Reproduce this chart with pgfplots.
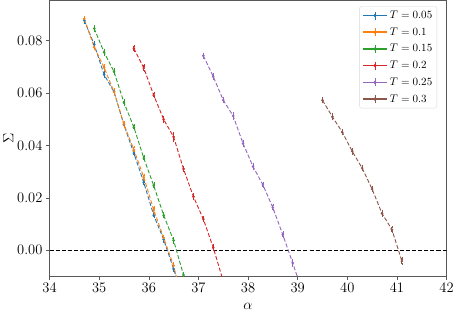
\documentclass[border=0pt]{standalone}
\usepackage{pgfplots}
\pgfplotsset{compat=1.18}
\definecolor{tabblue}{RGB}{31,119,180}
\definecolor{taborange}{RGB}{255,127,14}
\definecolor{tabgreen}{RGB}{44,160,44}
\definecolor{tabred}{RGB}{214,39,40}
\definecolor{tabpurple}{RGB}{148,103,189}
\definecolor{tabbrown}{RGB}{140,86,75}
\pgfplotsset{
  ebar/.style={only marks, mark=*, mark size=1.1pt, forget plot,
    error bars/y dir=both, error bars/y explicit, error bars/error mark=-,
    error bars/error bar style={line width=0.9pt},
    error bars/error mark options={mark size=1.6pt, line width=0.9pt}},
  dline/.style={dash pattern=on 4pt off 2pt, line width=0.9pt, forget plot, no marks},
  legimg/.style={legend image code/.code={
    \draw[solid, line width=1.5pt] (0cm,0cm) -- (0.85cm,0cm);
    \draw[solid, line width=1pt] (0.425cm,-0.14cm) -- (0.425cm,0.14cm);
    \fill (0.425cm,0cm) circle (1.4pt);
  }},
}
\begin{document}
\begin{tikzpicture}
\begin{axis}[
  scale only axis, width=394pt, height=274pt,
  xmin=34, xmax=42, ymin=-0.0100, ymax=0.0954,
  xtick={34,35,...,42},
  ytick={0,0.02,0.04,0.06,0.08},
  yticklabel style={/pgf/number format/.cd, fixed, fixed zerofill, precision=2},
  scaled y ticks=false,
  tick align=outside, xtick pos=bottom, ytick pos=left,
  major tick length=3.5pt,
  axis line style={black!65},
  every tick/.style={black!65},
  tick label style={font=\fontsize{14.5}{16}\selectfont},
  xlabel={$\alpha$}, ylabel={$\Sigma$},
  label style={font=\fontsize{15}{17}\selectfont},
  xlabel style={yshift=-4pt},
  ylabel style={yshift=-3pt},
  legend style={at={(0.976,0.978)}, anchor=north east, font=\fontsize{10.5}{12}\selectfont, draw=black!15, rounded corners=2pt, inner sep=2.5pt, row sep=3.6pt},
  legend cell align=left,
]
\addplot[black, dash pattern=on 4pt off 2pt, line width=0.8pt, forget plot] coordinates {(34,0) (42,0)};

% T = 0.05
\addplot[tabblue, dline] coordinates {(34.7,0.0877) (34.9,0.0785) (35.1,0.0670) (35.3,0.0604) (35.5,0.0478) (35.7,0.0370) (35.9,0.0258) (36.1,0.0133) (36.3,0.0041) (36.5,-0.0072) (36.56,-0.0105)};
\addplot[tabblue, ebar, mark options={tabblue}, error bars/error bar style={tabblue}, error bars/error mark options={tabblue}] coordinates {(34.7,0.0877) +- (0,0.0008) (34.9,0.0785) +- (0,0.0008) (35.1,0.0670) +- (0,0.0008) (35.3,0.0604) +- (0,0.0008) (35.5,0.0478) +- (0,0.0008) (35.7,0.0370) +- (0,0.0008) (35.9,0.0258) +- (0,0.0008) (36.1,0.0133) +- (0,0.0008) (36.3,0.0041) +- (0,0.0008) (36.5,-0.0072) +- (0,0.0008)};

% T = 0.1
\addplot[taborange, dline] coordinates {(34.7,0.0883) (34.9,0.0775) (35.1,0.0697) (35.3,0.0604) (35.5,0.0480) (35.7,0.0383) (35.9,0.0278) (36.1,0.0153) (36.3,0.0047) (36.5,-0.0059) (36.56,-0.0105)};
\addplot[taborange, ebar, mark options={taborange}, error bars/error bar style={taborange}, error bars/error mark options={taborange}] coordinates {(34.7,0.0883) +- (0,0.0008) (34.9,0.0775) +- (0,0.0008) (35.1,0.0697) +- (0,0.0010) (35.3,0.0604) +- (0,0.0010) (35.5,0.0480) +- (0,0.0008) (35.7,0.0383) +- (0,0.0010) (35.9,0.0278) +- (0,0.0010) (36.1,0.0153) +- (0,0.0010) (36.3,0.0047) +- (0,0.0008) (36.5,-0.0059) +- (0,0.0010)};

% T = 0.15
\addplot[tabgreen, dline] coordinates {(34.9,0.0846) (35.1,0.0755) (35.3,0.0681) (35.5,0.0563) (35.7,0.0469) (35.9,0.0351) (36.1,0.0246) (36.3,0.0133) (36.5,0.0037) (36.7,-0.0095) (36.71,-0.0105)};
\addplot[tabgreen, ebar, mark options={tabgreen}, error bars/error bar style={tabgreen}, error bars/error mark options={tabgreen}] coordinates {(34.9,0.0846) +- (0,0.0008) (35.1,0.0755) +- (0,0.0010) (35.3,0.0681) +- (0,0.0010) (35.5,0.0563) +- (0,0.0010) (35.7,0.0469) +- (0,0.0008) (35.9,0.0351) +- (0,0.0008) (36.1,0.0246) +- (0,0.0008) (36.3,0.0133) +- (0,0.0008) (36.5,0.0037) +- (0,0.0010) (36.7,-0.0095) +- (0,0.0008)};

% T = 0.2
\addplot[tabred, dline] coordinates {(35.7,0.0770) (35.9,0.0695) (36.1,0.0591) (36.3,0.0499) (36.5,0.0432) (36.7,0.0310) (36.9,0.0204) (37.1,0.0118) (37.3,0.0009) (37.48,-0.0105)};
\addplot[tabred, ebar, mark options={tabred}, error bars/error bar style={tabred}, error bars/error mark options={tabred}] coordinates {(35.7,0.0770) +- (0,0.0010) (35.9,0.0695) +- (0,0.0010) (36.1,0.0591) +- (0,0.0008) (36.3,0.0499) +- (0,0.0008) (36.5,0.0432) +- (0,0.0015) (36.7,0.0310) +- (0,0.0008) (36.9,0.0204) +- (0,0.0008) (37.1,0.0118) +- (0,0.0008) (37.3,0.0009) +- (0,0.0010)};

% T = 0.25
\addplot[tabpurple, dline] coordinates {(37.1,0.0742) (37.3,0.0662) (37.5,0.0573) (37.7,0.0512) (37.9,0.0407) (38.1,0.0319) (38.3,0.0249) (38.5,0.0162) (38.7,0.0059) (38.9,-0.0049) (39.0,-0.0105)};
\addplot[tabpurple, ebar, mark options={tabpurple}, error bars/error bar style={tabpurple}, error bars/error mark options={tabpurple}] coordinates {(37.1,0.0742) +- (0,0.0008) (37.3,0.0662) +- (0,0.0008) (37.5,0.0573) +- (0,0.0008) (37.7,0.0512) +- (0,0.0010) (37.9,0.0407) +- (0,0.0008) (38.1,0.0319) +- (0,0.0008) (38.3,0.0249) +- (0,0.0008) (38.5,0.0162) +- (0,0.0010) (38.7,0.0059) +- (0,0.0008) (38.9,-0.0049) +- (0,0.0010)};

% T = 0.3
\addplot[tabbrown, dline] coordinates {(39.5,0.0572) (39.7,0.0509) (39.9,0.0450) (40.1,0.0377) (40.3,0.0313) (40.5,0.0233) (40.7,0.0140) (40.9,0.0078) (41.1,-0.0042)};
\addplot[tabbrown, ebar, mark options={tabbrown}, error bars/error bar style={tabbrown}, error bars/error mark options={tabbrown}] coordinates {(39.5,0.0572) +- (0,0.0008) (39.7,0.0509) +- (0,0.0010) (39.9,0.0450) +- (0,0.0008) (40.1,0.0377) +- (0,0.0008) (40.3,0.0313) +- (0,0.0008) (40.5,0.0233) +- (0,0.0008) (40.7,0.0140) +- (0,0.0008) (40.9,0.0078) +- (0,0.0010) (41.1,-0.0042) +- (0,0.0010)};

\addlegendimage{tabblue, legimg}\addlegendentry{$T = 0.05$}
\addlegendimage{taborange, legimg}\addlegendentry{$T = 0.1$}
\addlegendimage{tabgreen, legimg}\addlegendentry{$T = 0.15$}
\addlegendimage{tabred, legimg}\addlegendentry{$T = 0.2$}
\addlegendimage{tabpurple, legimg}\addlegendentry{$T = 0.25$}
\addlegendimage{tabbrown, legimg}\addlegendentry{$T = 0.3$}
\end{axis}
\end{tikzpicture}
\end{document}
